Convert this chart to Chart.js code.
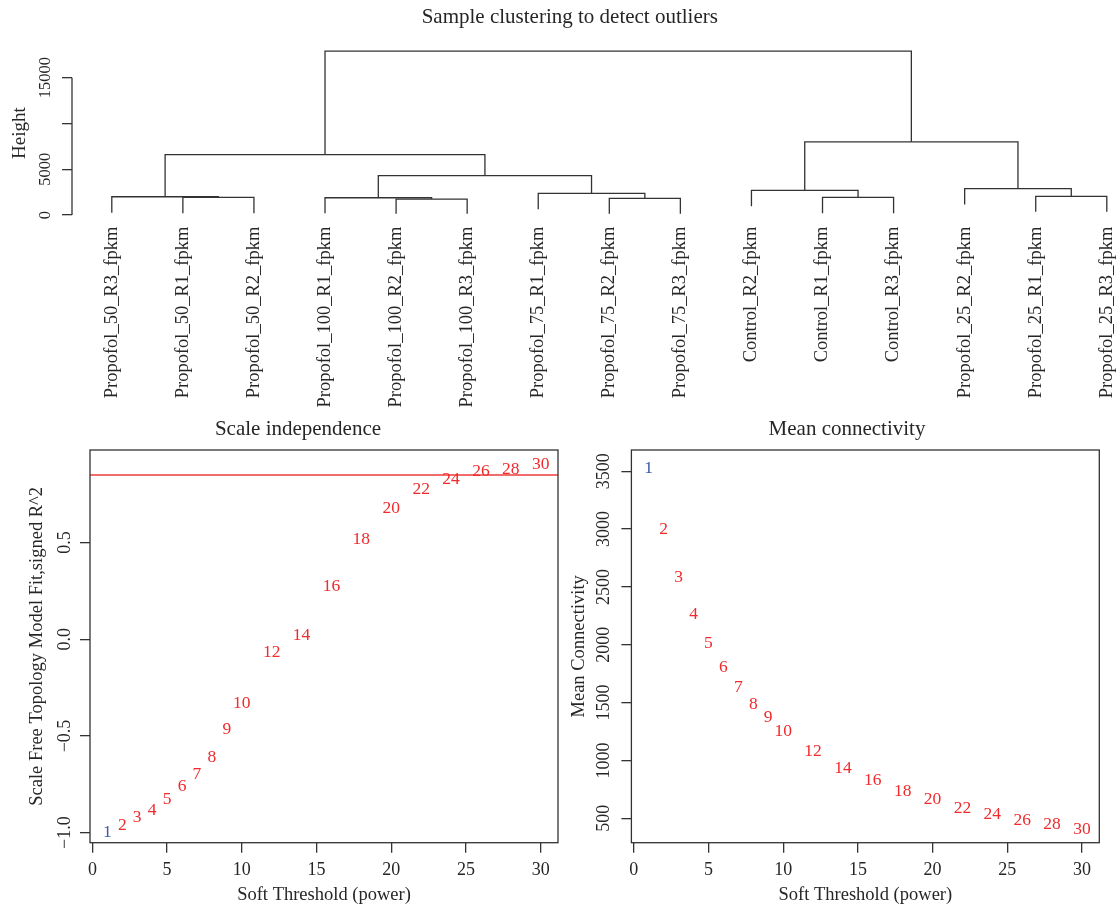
<!DOCTYPE html>
<html>
<head>
<meta charset="utf-8">
<script src="https://cdn.jsdelivr.net/npm/chart.js@4.4.1/dist/chart.umd.min.js"></script>
<style>
html,body{margin:0;padding:0;background:#fff;overflow:hidden;width:1120px;height:913px;position:relative;}
canvas{position:absolute;display:block;}
</style>
</head>
<body>
<canvas id="dendro" width="1166" height="420" style="left:-7px;top:0px"></canvas>
<canvas id="sft" width="596" height="493" style="left:0px;top:420px"></canvas>
<canvas id="conn" width="550" height="493" style="left:570px;top:420px"></canvas>
<script>
// ---------------- DATA ----------------
const leafLabels = [
  "Propofol_50_R3_fpkm","Propofol_50_R1_fpkm","Propofol_50_R2_fpkm",
  "Propofol_100_R1_fpkm","Propofol_100_R2_fpkm","Propofol_100_R3_fpkm",
  "Propofol_75_R1_fpkm","Propofol_75_R2_fpkm","Propofol_75_R3_fpkm",
  "Control_R2_fpkm","Control_R1_fpkm","Control_R3_fpkm",
  "Propofol_25_R2_fpkm","Propofol_25_R1_fpkm","Propofol_25_R3_fpkm"
];
// height at which each leaf's branch ends
const leafBottoms = [250, 200, 200, 200, 150, 150, 620, 150, 150, 950, 200, 200, 1150, 350, 350];
// merge table (negative = leaf number, positive = earlier merge number)
const mergeA = [-2, -1, -5, -4, -8, -7, 4, 2, -11, -10, -14, -13, 10, 8];
const mergeB = [-3,  1, -6,  3, -9,  5, 6, 7, -12,   9, -15,  11, 12, 13];
const mergeHeights = [1930, 2000, 1750, 1890, 1820, 2370, 4300, 6600, 1930, 2690, 2040, 2880, 8000, 17900];
const heightTicks = [0, 5000, 10000, 15000];
const heightTickLabels = ["0", "5000", "", "15000"];

const powers = [1,2,3,4,5,6,7,8,9,10,12,14,16,18,20,22,24,26,28,30];
const sftR2 = [-1.0,-0.96,-0.923,-0.885,-0.828,-0.759,-0.699,-0.61,-0.467,-0.33,-0.067,0.022,0.271,0.515,0.679,0.777,0.825,0.869,0.88,0.902];
const meanK = [3523,2999,2584,2264,2013,1803,1633,1486,1370,1255,1082,932,831,736,659,589,532,483,448,408];
const r2Cutoff = 0.85;
const powerTicks = [0,5,10,15,20,25,30];
const r2Ticks = [-1,-0.5,0,0.5];
const r2TickLabels = ["\u22121.0","\u22120.5","0.0","0.5"];
const kTicks = [500,1000,1500,2000,2500,3000,3500];

// ---------------- STYLE ----------------
const SERIF = '"Liberation Serif", "DejaVu Serif", serif';
const INK = '#262626';
const LINE = '#333333';
const RED = '#ef2b2d';
const BLUE = '#3d5aa8';
Chart.defaults.font.family = SERIF;
Chart.defaults.color = INK;
Chart.defaults.animation = false;

// ---------------- PLUGINS ----------------
const rAxisLine = {
  id: 'rAxisLine',
  afterDraw(chart, args, opts) {
    if (!opts || !opts.enabled) return;
    const s = chart.scales.y, ctx = chart.ctx;
    ctx.save();
    ctx.strokeStyle = LINE; ctx.lineWidth = 1.3;
    ctx.beginPath();
    ctx.moveTo(s.right, s.getPixelForValue(opts.from));
    ctx.lineTo(s.right, s.getPixelForValue(opts.to));
    ctx.stroke();
    ctx.restore();
  }
};
const plotBox = {
  id: 'plotBox',
  afterDraw(chart, args, opts) {
    if (!opts || !opts.enabled) return;
    const a = chart.chartArea, ctx = chart.ctx;
    ctx.save();
    ctx.strokeStyle = LINE; ctx.lineWidth = 1.3;
    ctx.strokeRect(a.left, a.top, a.right - a.left, a.bottom - a.top);
    ctx.restore();
  }
};
const hLine = {
  id: 'hLine',
  beforeDatasetsDraw(chart, args, opts) {
    if (!opts || opts.value === undefined) return;
    const a = chart.chartArea, ctx = chart.ctx;
    const y = chart.scales.y.getPixelForValue(opts.value);
    ctx.save();
    ctx.strokeStyle = opts.color; ctx.lineWidth = 1.6;
    ctx.beginPath(); ctx.moveTo(a.left, y); ctx.lineTo(a.right, y); ctx.stroke();
    ctx.restore();
  }
};
const pointText = {
  id: 'pointText',
  afterDatasetsDraw(chart, args, opts) {
    if (!opts || !opts.labels) return;
    const meta = chart.getDatasetMeta(0), ctx = chart.ctx;
    ctx.save();
    ctx.font = '17.5px ' + SERIF;
    ctx.textAlign = 'center'; ctx.textBaseline = 'middle';
    meta.data.forEach((el, i) => {
      ctx.fillStyle = i === 0 ? BLUE : RED;
      ctx.fillText(String(opts.labels[i]), el.x, el.y);
    });
    ctx.restore();
  }
};

// ---------------- DENDROGRAM ----------------
const nodeX = [];
function childPos(c) {
  return c < 0 ? {x: -c, y: leafBottoms[-c - 1]} : {x: nodeX[c - 1], y: mergeHeights[c - 1]};
}
const dendroSets = [];
mergeHeights.forEach((h, i) => {
  const a = childPos(mergeA[i]), b = childPos(mergeB[i]);
  nodeX[i] = (a.x + b.x) / 2;
  dendroSets.push({
    data: [{x: a.x, y: a.y}, {x: a.x, y: h}, {x: b.x, y: h}, {x: b.x, y: b.y}],
    showLine: true, borderColor: LINE, borderWidth: 1.3, pointRadius: 0,
    pointHoverRadius: 0, tension: 0, fill: false, clip: false
  });
});

new Chart(document.getElementById('dendro'), {
  type: 'scatter',
  data: { datasets: dendroSets },
  plugins: [rAxisLine],
  options: {
    responsive: false, events: [],
    layout: { padding: { left: 0, right: 12.4, top: 0, bottom: 0 } },
    plugins: {
      legend: { display: false }, tooltip: { enabled: false },
      title: { display: true, text: 'Sample clustering to detect outliers', color: INK,
               font: { family: SERIF, size: 21, weight: 'normal', lineHeight: 1.2 },
               padding: { top: 4.9, bottom: 14.5 } },
      rAxisLine: { enabled: true, from: heightTicks[0], to: heightTicks[heightTicks.length - 1] }
    },
    scales: {
      x: {
        type: 'linear', min: 0.44, max: 15.56,
        afterBuildTicks: s => { s.ticks = leafLabels.map((_, i) => ({ value: i + 1 })); },
        afterFit: s => { s.height = 420 - 221.6; },
        grid: { display: false, drawTicks: false }, border: { display: false },
        ticks: { autoSkip: false, minRotation: 90, maxRotation: 90, padding: 5,
                 font: { size: 18.5 }, color: INK,
                 callback: v => leafLabels[Math.round(v) - 1] || '' }
      },
      y: {
        type: 'linear', min: -716, max: 18620,
        afterBuildTicks: s => { s.ticks = heightTicks.map(v => ({ value: v })); },
        afterFit: s => { s.width = 79; },
        grid: { display: true, drawOnChartArea: false, drawTicks: true, tickLength: 10, color: LINE, lineWidth: 1.3 },
        border: { display: false },
        title: { display: true, text: 'Height', color: INK, font: { size: 19, lineHeight: 1.2 },
                 padding: { top: 15.6, bottom: 0 } },
        ticks: { minRotation: 90, maxRotation: 90, crossAlign: 'center', padding: -4.6,
                 font: { size: 16.5 }, color: INK,
                 callback: (v, i) => heightTickLabels[heightTicks.indexOf(v)] }
      }
    }
  }
});

// ---------------- BOTTOM PANELS ----------------
function panel(id, title, yData, yTitle, yMin, yMax, yTicks, yLabelFn, padL, padR, yWidth, yTitlePad, yTickPad, extra) {
  return new Chart(document.getElementById(id), {
    type: 'scatter',
    data: { datasets: [{ data: powers.map((p, i) => ({ x: p, y: yData[i] })), pointRadius: 0, pointHoverRadius: 0, showLine: false }] },
    plugins: [plotBox, hLine, pointText],
    options: {
      responsive: false, events: [],
      layout: { padding: { left: padL, right: padR, top: 0, bottom: 0 } },
      plugins: {
        legend: { display: false }, tooltip: { enabled: false },
        title: { display: true, text: title, color: INK,
                 font: { family: SERIF, size: 21, weight: 'normal', lineHeight: 1.0 },
                 padding: { top: -1, bottom: 10 } },
        plotBox: { enabled: true },
        hLine: extra,
        pointText: { labels: powers }
      },
      scales: {
        x: {
          type: 'linear', min: -0.16, max: 31.16,
          afterBuildTicks: s => { s.ticks = powerTicks.map(v => ({ value: v })); },
          afterFit: s => { s.height = 493 - 422.7; },
          grid: { display: true, drawOnChartArea: false, drawTicks: true, tickLength: 10, color: LINE, lineWidth: 1.3 },
          border: { display: false },
          title: { display: true, text: 'Soft Threshold (power)', color: INK, font: { size: 18.5, lineHeight: 1.2 },
                   padding: { top: 0, bottom: 7 } },
          ticks: { autoSkip: false, maxRotation: 0, padding: 6.5, font: { size: 18 }, color: INK,
                   callback: v => String(v) }
        },
        y: {
          type: 'linear', min: yMin, max: yMax,
          afterBuildTicks: s => { s.ticks = yTicks.map(v => ({ value: v })); },
          afterFit: s => { s.width = yWidth; },
          grid: { display: true, drawOnChartArea: false, drawTicks: true, tickLength: 10, color: LINE, lineWidth: 1.3 },
          border: { display: false },
          title: { display: true, text: yTitle, color: INK, font: { size: 18.5, lineHeight: 1.2 },
                   padding: { top: yTitlePad, bottom: 0 } },
          ticks: { minRotation: 90, maxRotation: 90, crossAlign: 'center', padding: yTickPad,
                   font: { size: 18 }, color: INK, callback: yLabelFn }
        }
      }
    }
  });
}

panel('sft', 'Scale independence', sftR2, 'Scale Free Topology Model Fit,signed R^2',
      -1.052, 0.979, r2Ticks, v => r2TickLabels[r2Ticks.indexOf(v)],
      38, 38, 52, -11.6, -1.3, { value: r2Cutoff, color: '#ee3b3b' });

panel('conn', 'Mean connectivity', meanK, 'Mean Connectivity',
      289, 3684, kTicks, v => String(v),
      24.7, 20.7, 36.7, -26.2, -1.2, {});
</script>
</body>
</html>
